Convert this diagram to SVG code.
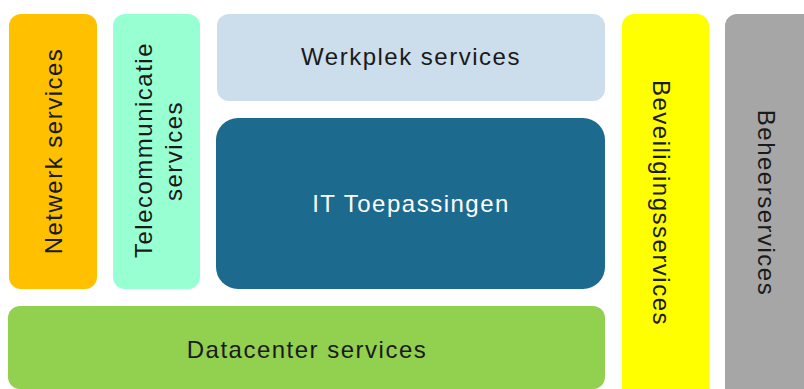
<svg xmlns="http://www.w3.org/2000/svg" width="804" height="389" viewBox="0 0 804 389">
<style>
text{font-family:"Liberation Sans",Arial,sans-serif;font-size:24px;letter-spacing:1.5px;fill:#1a1a1a;text-anchor:middle}
.w{fill:#ffffff}
</style>
<rect width="804" height="389" fill="#ffffff"/>
<g id="netwerk">
<rect x="9" y="14" width="88" height="275" rx="12" fill="#FFC000"/>
<text transform="translate(62,151) rotate(-90)">Netwerk services</text>
</g>
<g id="telecom">
<rect x="113" y="14" width="87" height="275" rx="12" fill="#98FFD3"/>
<text transform="translate(152,150) rotate(-90)">Telecommunicatie</text>
<text transform="translate(182,151) rotate(-90)">services</text>
</g>
<g id="werkplek">
<rect x="217" y="14" width="388" height="87" rx="12" fill="#CCDDEB"/>
<text x="411" y="65">Werkplek services</text>
</g>
<g id="it">
<rect x="216" y="118" width="389" height="171" rx="22" fill="#1C6B8F"/>
<text class="w" x="411" y="212">IT Toepassingen</text>
</g>
<g id="datacenter">
<rect x="8" y="306" width="597" height="83" rx="12" fill="#92D050"/>
<text x="307" y="358">Datacenter services</text>
</g>
<g id="beveiliging">
<rect x="622" y="14" width="87" height="390" rx="12" fill="#FFFF00"/>
<text transform="translate(653,203) rotate(90)">Beveiligingsservices</text>
</g>
<g id="beheer">
<rect x="725" y="14" width="95" height="390" rx="12" fill="#A6A6A6"/>
<text transform="translate(758,203) rotate(90)">Beheerservices</text>
</g>
<g id="connectors"/>
</svg>
